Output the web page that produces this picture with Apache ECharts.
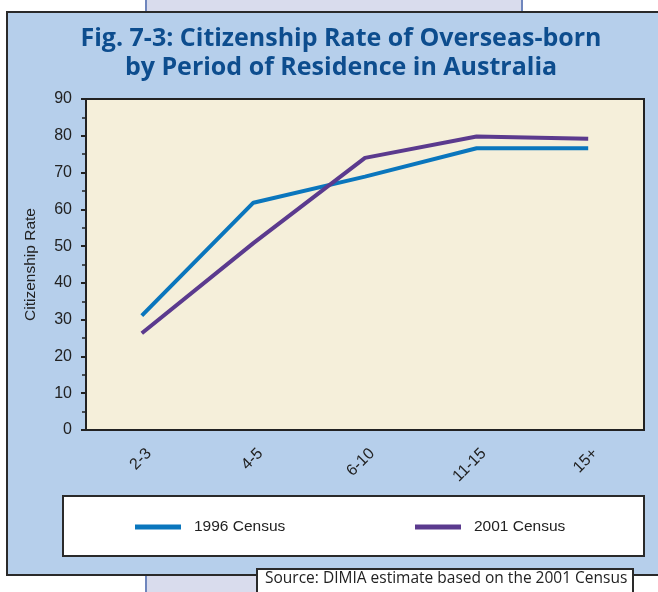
<!DOCTYPE html>
<html>
<head>
<meta charset="utf-8">
<script src="https://cdn.jsdelivr.net/npm/echarts@6/dist/echarts.min.js"></script>
<style>
  html, body { margin: 0; padding: 0; background: #ffffff; }
  #chart { width: 658px; height: 592px; }
</style>
</head>
<body>
<div id="chart"></div>
<script>
// Period of residence (years) on the category axis
const periods = ['2-3', '4-5', '6-10', '11-15', '15+'];
// Citizenship rate (%) by census
const census1996 = [31.1, 61.8, 68.9, 76.6, 76.6];
const census2001 = [26.3, 50.8, 74.0, 79.8, 79.2];
// Value axis ticks
const yTicks = [0, 10, 20, 30, 40, 50, 60, 70, 80, 90];

const titleText = 'Fig. 7-3: Citizenship Rate of Overseas-born\nby Period of Residence in Australia';
const sourceText = 'Source: DIMIA estimate based on the 2001 Census';

const sans = '"Liberation Sans", Arial, sans-serif';
const ink = '#222222';

const chart = echarts.init(document.getElementById('chart'), null, { renderer: 'canvas' });

chart.setOption({
  backgroundColor: '#ffffff',
  animation: false,
  title: {
    text: titleText,
    left: 336,
    top: 19,
    textAlign: 'center',
    textStyle: {
      fontFamily: '"Open Sans", "Noto Sans", sans-serif',
      fontWeight: 'bold',
      fontSize: 25,
      lineHeight: 29,
      color: '#0d4d8e'
    }
  },
  graphic: [
    // lavender page column behind the panel
    { type: 'rect', z: -20, shape: { x: 146, y: -4, width: 376, height: 600 },
      style: { fill: '#d9dced', stroke: '#6f86bd', lineWidth: 2 } },
    // blue panel
    { type: 'rect', z: -10, shape: { x: 7, y: 12, width: 660, height: 563 },
      style: { fill: '#b6cfeb', stroke: '#2a2a2a', lineWidth: 2 } },
    // legend box
    { type: 'rect', z: 1, shape: { x: 63, y: 496, width: 581, height: 60 },
      style: { fill: '#ffffff', stroke: '#2a2a2a', lineWidth: 2 } },
    // source note
    { type: 'rect', z: 5, shape: { x: 257, y: 569, width: 376, height: 30 },
      style: { fill: '#ffffff', stroke: '#2a2a2a', lineWidth: 2 } },
    { type: 'text', z: 6, left: 265, top: 571,
      style: { text: sourceText, fill: '#222222', fontSize: 15.5,
               fontFamily: '"Open Sans", "Noto Sans", sans-serif' } }
  ],
  legend: [
    {
      data: ['1996 Census'], left: 130, top: 514, z: 4,
      icon: 'rect', itemWidth: 46, itemHeight: 5, itemGap: 0,
      textStyle: { fontFamily: sans, fontSize: 15.5, color: ink, padding: [0, 0, 0, 8] }
    },
    {
      data: ['2001 Census'], left: 410, top: 514, z: 4,
      icon: 'rect', itemWidth: 46, itemHeight: 5, itemGap: 0,
      textStyle: { fontFamily: sans, fontSize: 15.5, color: ink, padding: [0, 0, 0, 8] }
    }
  ],
  grid: {
    left: 86, top: 99, right: 14, bottom: 162,
    show: true, backgroundColor: '#f5efda', borderColor: ink, borderWidth: 2
  },
  xAxis: {
    type: 'category',
    data: periods,
    boundaryGap: true,
    axisLine: { lineStyle: { color: ink, width: 2 } },
    axisTick: { alignWithLabel: true, length: 6, lineStyle: { color: ink, width: 2 } },
    axisLabel: {
      rotate: 45, verticalAlign: 'top', lineHeight: 20, margin: 14,
      fontFamily: sans, fontSize: 16, color: ink
    }
  },
  yAxis: {
    type: 'value',
    min: yTicks[0], max: yTicks[yTicks.length - 1], interval: 10,
    name: 'Citizenship Rate',
    nameLocation: 'middle',
    nameRotate: 90,
    nameGap: 47,
    nameTextStyle: { fontFamily: sans, fontSize: 15.5, color: ink },
    axisLine: { show: true, lineStyle: { color: ink, width: 2 } },
    axisTick: { show: true, length: 5, lineStyle: { color: ink, width: 2 } },
    minorTick: { show: true, splitNumber: 2, length: 4, lineStyle: { color: ink, width: 1.5 } },
    splitLine: { show: false },
    axisLabel: { margin: 14, fontFamily: sans, fontSize: 16, color: ink }
  },
  series: [
    {
      name: '1996 Census', type: 'line', data: census1996,
      showSymbol: false, symbol: 'none',
      itemStyle: { color: '#0a76bd' },
      lineStyle: { color: '#0a76bd', width: 4 }
    },
    {
      name: '2001 Census', type: 'line', data: census2001,
      showSymbol: false, symbol: 'none',
      itemStyle: { color: '#5b3a8e' },
      lineStyle: { color: '#5b3a8e', width: 4 }
    }
  ]
});
</script>
</body>
</html>
